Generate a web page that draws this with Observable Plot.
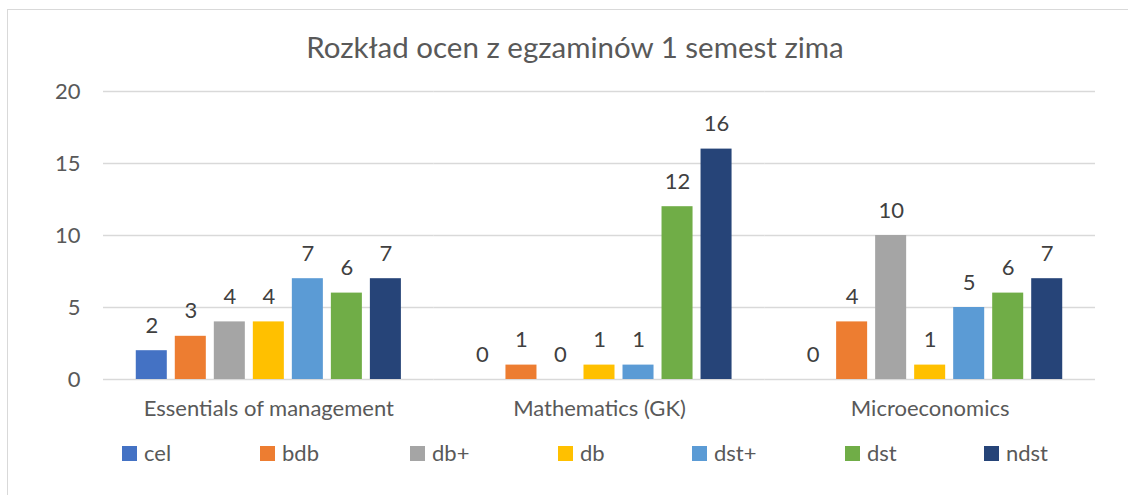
<!DOCTYPE html>
<html>
<head>
<meta charset="utf-8">
<script src="https://cdn.jsdelivr.net/npm/d3@7"></script>
<script src="https://cdn.jsdelivr.net/npm/@observablehq/plot@0.6"></script>
<style>
  html, body { margin: 0; padding: 0; background: #fff; overflow: hidden; }
  body { width: 1128px; height: 495px; position: relative; font-family: Lato, "Open Sans", sans-serif; }
  #frame { position: absolute; left: 7px; top: 9px; width: 1200px; height: 600px; border: 1.5px solid #d9d9d9; box-sizing: border-box; }
  #title { position: absolute; left: 0; width: 1150px; top: 29px; text-align: center; font-size: 29.5px; color: #595959; }
  #chart { position: absolute; left: 0; top: 0; }
  .leg { position: absolute; top: 439px; font-size: 22px; color: #595959; display: flex; align-items: center; line-height: 28px; }
  .leg .sw { width: 15px; height: 15px; margin-right: 7px; }
</style>
</head>
<body>
<div id="frame"></div>
<div id="chart"></div>
<div id="title">Rozkład ocen z egzaminów 1 semest zima</div>
<div id="legend"></div>
<script>
const groups = ["Essentials of management", "Mathematics (GK)", "Microeconomics"];
const series = ["cel", "bdb", "db+", "db", "dst+", "dst", "ndst"];
const colors = ["#4472C4", "#ED7D31", "#A5A5A5", "#FFC000", "#5B9BD5", "#70AD47", "#264478"];
const essentials = [2, 3, 4, 4, 7, 6, 7];
const mathematics = [0, 1, 0, 1, 1, 12, 16];
const microeconomics = [0, 4, 10, 1, 5, 6, 7];
const yTicks = [0, 5, 10, 15, 20];

const valuesByGroup = [essentials, mathematics, microeconomics];
const data = [];
groups.forEach((g, gi) => series.forEach((s, si) => data.push({group: g, series: s, value: valuesByGroup[gi][si]})));

const font = "Lato, 'Open Sans', sans-serif";
const chart = Plot.plot({
  width: 1128,
  height: 430,
  marginLeft: 103,
  marginRight: 33,
  marginTop: 91,
  marginBottom: 51,
  style: {fontFamily: font, fontSize: "22px", color: "#595959", background: "transparent"},
  fx: {domain: groups, padding: 0, label: null, round: false},
  x: {domain: series, paddingInner: 0.205, paddingOuter: 0.84, round: false, axis: null},
  y: {domain: [0, 20], axis: null},
  color: {domain: series, range: colors},
  marks: [
    Plot.ruleY(yTicks, {stroke: "#d9d9d9", strokeWidth: 1.5}),
    Plot.axisY({ticks: yTicks, tickSize: 0, tickPadding: 23, fontSize: 22, fill: "#595959", label: null}),
    Plot.axisFx({anchor: "bottom", tickSize: 0, tickPadding: 21, fontSize: 22, fill: "#595959", label: null}),
    Plot.barY(data, {fx: "group", x: "series", y: "value", fill: "series"}),
    Plot.text(data, {fx: "group", x: "series", y: "value", text: d => String(d.value), dy: -25, fontSize: 22, fill: "#404040"})
  ]
});
document.getElementById("chart").appendChild(chart);

const legendX = [122, 260, 410, 558, 692, 845, 984];
const legend = document.getElementById("legend");
series.forEach((s, i) => {
  const item = document.createElement("div");
  item.className = "leg";
  item.style.left = legendX[i] + "px";
  const sw = document.createElement("span");
  sw.className = "sw";
  sw.style.background = colors[i];
  const t = document.createElement("span");
  t.textContent = s;
  item.appendChild(sw);
  item.appendChild(t);
  legend.appendChild(item);
});
</script>
</body>
</html>
